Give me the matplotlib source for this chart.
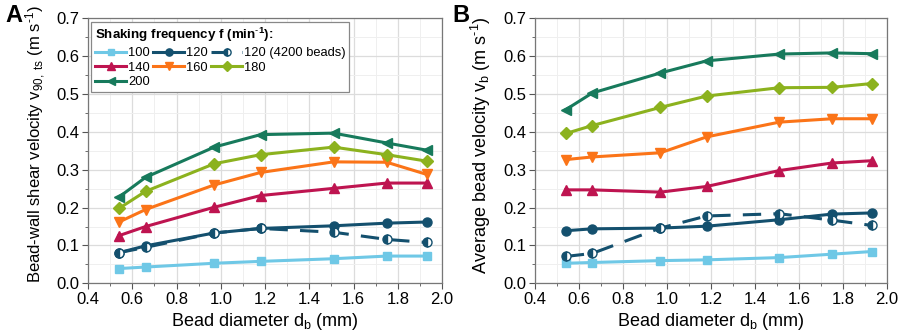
import matplotlib
matplotlib.use("Agg")
import matplotlib.pyplot as plt
from matplotlib.ticker import MultipleLocator

plt.rcParams['font.family'] = ['Liberation Sans', 'DejaVu Sans']
plt.rcParams['mathtext.fontset'] = 'custom'
plt.rcParams['mathtext.rm'] = 'Liberation Sans'
plt.rcParams['mathtext.it'] = 'Liberation Sans'
plt.rcParams['mathtext.bf'] = 'Liberation Sans:bold'

diam = [0.54, 0.66, 0.97, 1.18, 1.51, 1.75, 1.93]

labels = ["100", "120", "120 (4200 beads)", "140", "160", "180", "200"]

# Panel A: bead-wall shear velocity
a_100 = [0.039, 0.043, 0.053, 0.058, 0.065, 0.072, 0.072]
a_120 = [0.081, 0.099, 0.133, 0.145, 0.152, 0.159, 0.162]
a_120b = [0.081, 0.095, 0.133, 0.145, 0.135, 0.116, 0.108]
a_140 = [0.126, 0.150, 0.201, 0.232, 0.251, 0.265, 0.265]
a_160 = [0.162, 0.195, 0.260, 0.293, 0.321, 0.320, 0.288]
a_180 = [0.198, 0.243, 0.316, 0.340, 0.360, 0.340, 0.323]
a_200 = [0.228, 0.280, 0.360, 0.393, 0.397, 0.371, 0.352]

# Panel B: average bead velocity
b_100 = [0.053, 0.055, 0.060, 0.062, 0.068, 0.077, 0.084]
b_120 = [0.139, 0.144, 0.146, 0.151, 0.168, 0.183, 0.186]
b_120b = [0.071, 0.079, 0.146, 0.178, 0.184, 0.167, 0.153]
b_140 = [0.247, 0.247, 0.241, 0.256, 0.298, 0.318, 0.324]
b_160 = [0.327, 0.334, 0.345, 0.387, 0.426, 0.435, 0.435]
b_180 = [0.396, 0.417, 0.465, 0.495, 0.517, 0.518, 0.528]
b_200 = [0.459, 0.503, 0.556, 0.588, 0.606, 0.609, 0.607]

colors = ["#6FC8E6", "#14506E", "#14506E", "#BE1450", "#FB7418", "#8CB21E", "#177A5C"]
markers = ["s", "o", "o", "^", "v", "D", "<"]
msizes = [6, 6.5, 6.5, 7, 7, 6, 7]

fig = plt.figure(figsize=(8.99, 3.35), dpi=100)
axA = fig.add_axes([0.0979, 0.1543, 0.3938, 0.7905])
axB = fig.add_axes([0.5951, 0.1543, 0.3916, 0.7905])

def draw(ax, series):
    handles = []
    for i, ys in enumerate(series):
        kw = dict(color=colors[i], marker=markers[i], ms=msizes[i], lw=2.2,
                  markeredgecolor=colors[i])
        if i == 2:
            kw.update(ls=(0, (6, 4)), fillstyle='left', markerfacecoloralt='white',
                      markeredgewidth=1.0, ms=6.5)
        else:
            kw.update(ls='-')
        h, = ax.plot(diam, ys, label=labels[i], zorder=3, **kw)
        handles.append(h)
    ax.set_xlim(0.4, 2.0)
    ax.set_ylim(0.0, 0.7)
    ax.xaxis.set_major_locator(MultipleLocator(0.2))
    ax.xaxis.set_minor_locator(MultipleLocator(0.1))
    ax.yaxis.set_major_locator(MultipleLocator(0.1))
    ax.yaxis.set_minor_locator(MultipleLocator(0.05))
    ax.grid(True, which='major', color='#DCDCDC', lw=0.9, zorder=0)
    ax.grid(True, which='minor', color='#EFEFEF', lw=0.7, zorder=0)
    ax.tick_params(which='both', direction='out', labelsize=12, color='#555555', pad=2)
    ax.tick_params(which='major', length=4)
    ax.tick_params(which='minor', length=2.5)
    for s in ax.spines.values():
        s.set_color('#777777')
        s.set_linewidth(0.9)
    ax.set_xticklabels([f"{v:.1f}" for v in ax.get_xticks()])
    ax.set_yticklabels([f"{v:.1f}" for v in ax.get_yticks()])
    ax.set_xlabel(r"Bead diameter d$_\mathregular{b}$ (mm)", fontsize=13, labelpad=3)
    return handles

hA = draw(axA, [a_100, a_120, a_120b, a_140, a_160, a_180, a_200])
hB = draw(axB, [b_100, b_120, b_120b, b_140, b_160, b_180, b_200])

axA.set_ylabel(r"Bead-wall shear velocity v$_\mathregular{90,\ ts}$ (m s$^\mathregular{\text{-}1}$)",
               fontsize=12)
axA.yaxis.set_label_coords(-0.112, 0.525)
axB.set_ylabel(r"Average bead velocity v$_\mathregular{b}$ (m s$^\mathregular{\text{-}1}$)",
               fontsize=13)
axB.yaxis.set_label_coords(-0.118, 0.52)

# reorder so legend reads row-wise (matplotlib fills columns first)
order = [0, 3, 6, 1, 4, 2, 5]
leg = axA.legend(handles=[hA[k] for k in order], ncol=3, loc='upper left',
                 bbox_to_anchor=(0.002, 0.995),
                 title=r"Shaking frequency f (min$^\mathregular{\text{-}1}$):",
                 title_fontproperties={'weight': 'bold', 'size': 9.6},
                 fontsize=9.3, frameon=True, fancybox=False, edgecolor='#888888',
                 framealpha=1, handlelength=2.4, handletextpad=0.15, columnspacing=0.25,
                 labelspacing=0.2, borderpad=0.3, borderaxespad=0.2, markerscale=0.8)
leg._legend_box.align = "left"
leg.get_frame().set_linewidth(0.9)

fig.text(0.006, 0.955, "A", fontsize=17, fontweight='bold', va='center')
fig.text(0.503, 0.955, "B", fontsize=17, fontweight='bold', va='center')

fig.savefig("out.png", dpi=100)
